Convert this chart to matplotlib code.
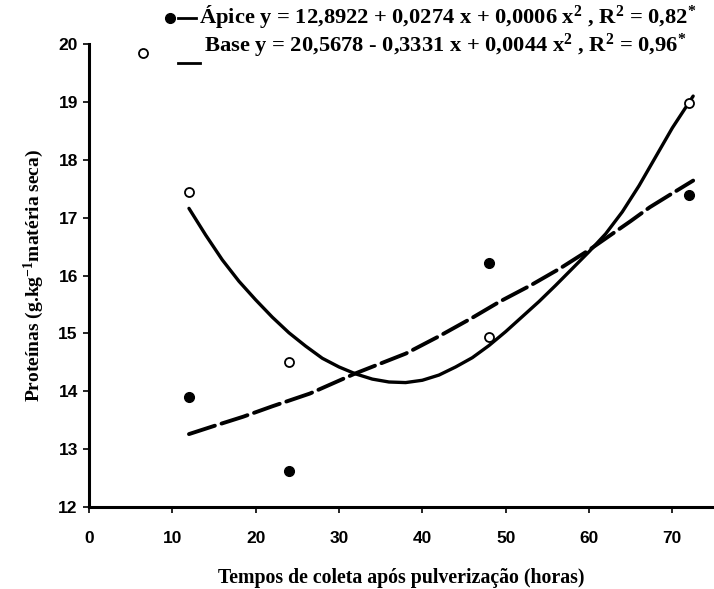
import numpy as np
import matplotlib.pyplot as plt
from matplotlib.lines import Line2D

plt.rcParams['mathtext.fontset'] = 'custom'
plt.rcParams['mathtext.rm'] = 'Liberation Serif:bold'
plt.rcParams['mathtext.it'] = 'Liberation Serif:bold'
plt.rcParams['mathtext.bf'] = 'Liberation Serif:bold'

# observed values
horas = [12, 24, 48, 72]
apice = [13.90, 12.62, 16.21, 17.39]
base = [17.45, 14.50, 14.93, 18.98]

# fitted curves
apice_fit_x = [12, 15, 18.5, 22, 26.5, 32, 38, 42, 46, 49.3, 53, 56.5, 60, 62.3, 65, 67.3, 70, 72.5]
apice_fit_y = [13.26, 13.40, 13.56, 13.74, 13.96, 14.31, 14.65, 14.95, 15.27, 15.55, 15.83,
               16.12, 16.44, 16.67, 16.94, 17.18, 17.42, 17.64]
base_fit_x = [12, 14, 16, 18, 20, 22, 24, 26, 28, 30, 32, 34, 36, 38, 40, 42, 44, 46, 48,
              50, 52, 54, 56, 58, 60, 62, 64, 66, 68, 70, 72.5]
base_fit_y = [17.16, 16.70, 16.27, 15.90, 15.58, 15.28, 15.01, 14.78, 14.57, 14.42, 14.30,
              14.21, 14.16, 14.15, 14.19, 14.28, 14.42, 14.58, 14.79, 15.03, 15.29, 15.55,
              15.83, 16.12, 16.41, 16.72, 17.10, 17.55, 18.05, 18.55, 19.10]

leg_apice = "Ápice y = 12,8922 + 0,0274 x + 0,0006 x$^{2}$ , R$^{2}$ = 0,82$^{*}$"
leg_base = "Base y = 20,5678 - 0,3331 x + 0,0044 x$^{2}$ , R$^{2}$ = 0,96$^{*}$"

fig = plt.figure(figsize=(7.14, 5.89), dpi=100)
ax = fig.add_axes([0.1246, 0.1392, 0.8754, 0.7861])

ax.plot(base_fit_x, base_fit_y, color='black', lw=2.4, solid_capstyle='round',
        solid_joinstyle='round')
ax.plot(apice_fit_x, apice_fit_y, color='black', lw=2.8, dashes=(7, 1.8), dash_capstyle='round')
ax.plot(horas, apice, 'o', color='black', ms=7, clip_on=False)
ax.plot(horas, base, 'o', mfc='white', mec='black', mew=1.3, ms=6.5, clip_on=False)

ax.set_xlim(0, 75)
ax.set_ylim(12, 20)
ax.set_xticks(range(0, 80, 10))
ax.set_yticks(range(12, 21))
for s in ['top', 'right']:
    ax.spines[s].set_visible(False)
for s in ['left', 'bottom']:
    ax.spines[s].set_linewidth(2.2)
ax.tick_params(axis='both', width=1.2, length=4, labelsize=12.5)
ax.tick_params(axis='x', pad=13)
ax.tick_params(axis='y', pad=4)
for lab in ax.get_xticklabels() + ax.get_yticklabels():
    lab.set_fontfamily('Liberation Sans')
    lab.set_fontweight('bold')

ax.set_xlabel("Tempos de coleta após pulverização (horas)", family='Liberation Serif',
              weight='bold', fontsize=14.3, labelpad=16)
ax.set_ylabel("Proteínas (g.kg$^{-1}$matéria seca)", family='Liberation Serif',
              weight='bold', fontsize=14, labelpad=9)

# legend drawn by hand
W, H = 714, 589
def fx(px):
    return px / W
def fy(py):
    return 1 - py / H

fig.add_artist(Line2D([fx(170)], [fy(18)], marker='o', color='black', ms=7))
fig.add_artist(Line2D([fx(178), fx(196)], [fy(18), fy(18)], color='black', lw=2))
fig.text(fx(199), fy(17), leg_apice, family='Liberation Serif', weight='bold',
         fontsize=16.2, va='center', ha='left')
fig.add_artist(Line2D([fx(143)], [fy(53)], marker='o', mfc='white', mec='black', mew=1.3, ms=6.5))
fig.add_artist(Line2D([fx(178), fx(200)], [fy(63), fy(63)], color='black', lw=2))
fig.text(fx(204), fy(46), leg_base, family='Liberation Serif', weight='bold',
         fontsize=16.2, va='center', ha='left')

fig.savefig('out.png', dpi=100)
